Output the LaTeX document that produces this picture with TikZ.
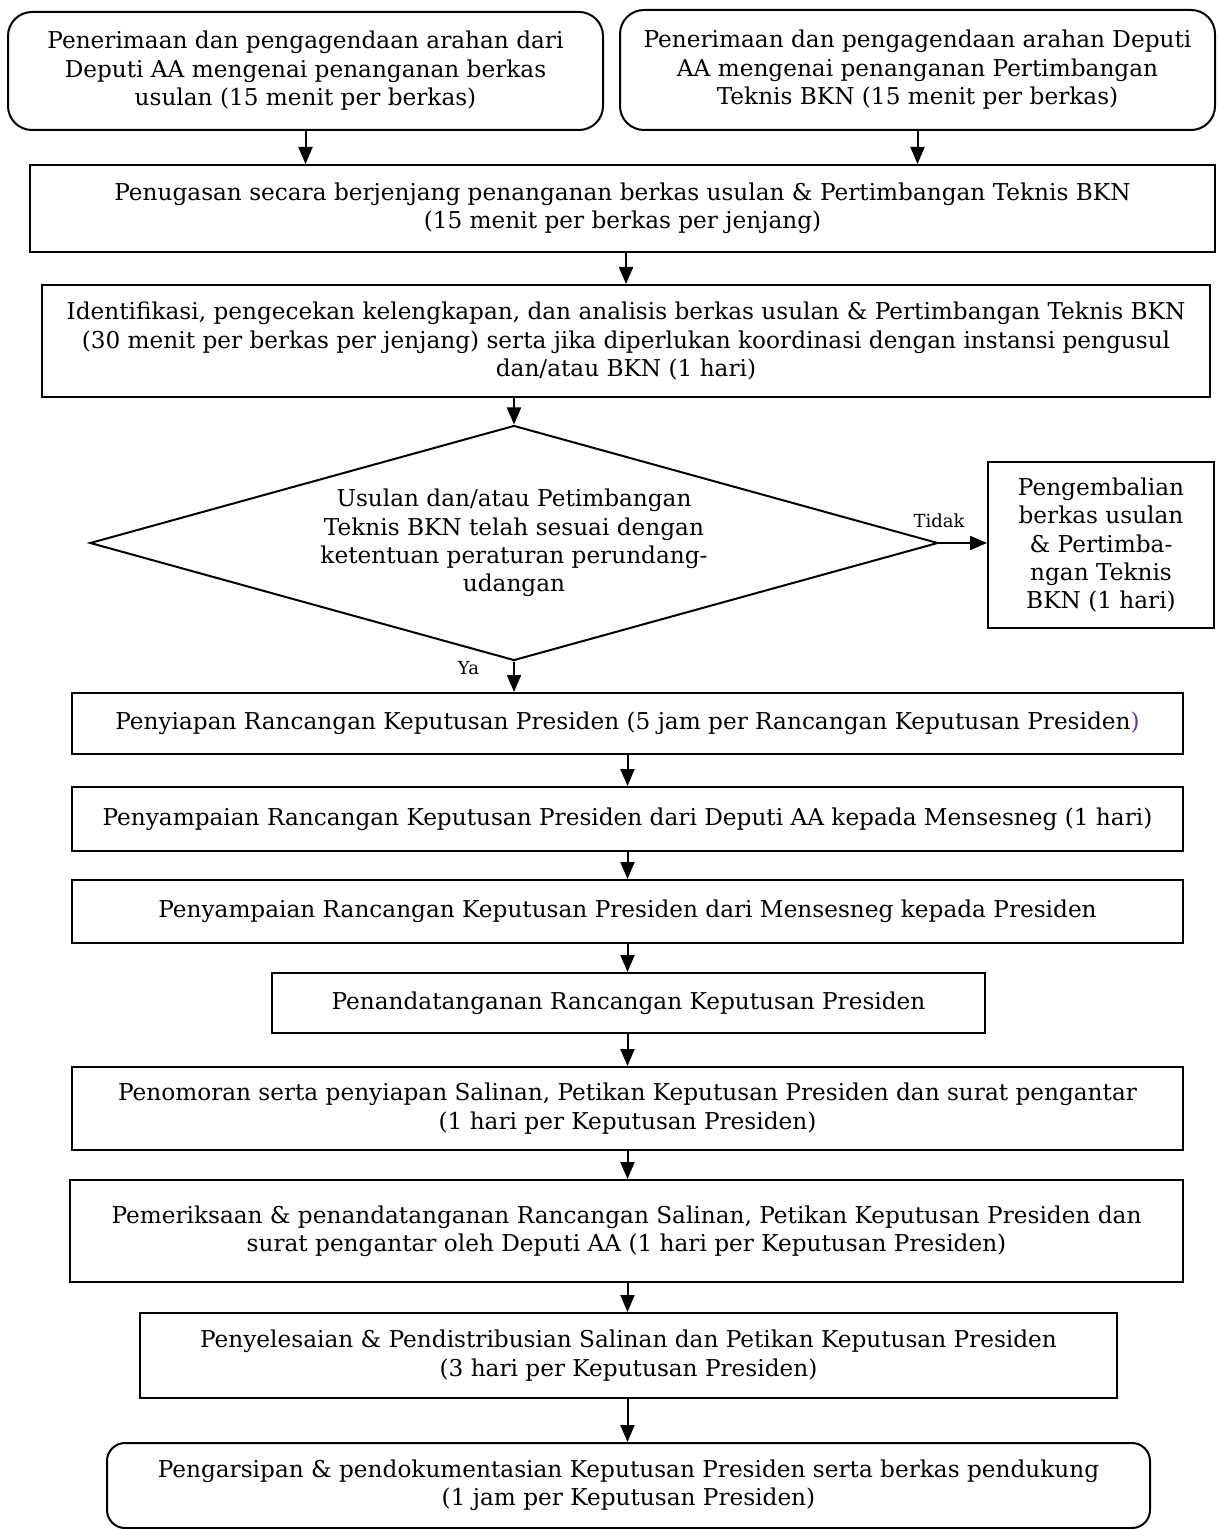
\documentclass[tikz,border=0pt]{standalone}
\usepackage{fontspec}
\setmainfont{DejaVu Serif}
\usepackage{xcolor}
\usepackage{tikz}
\usetikzlibrary{positioning}
\usetikzlibrary{arrows.meta, shapes.geometric, calc}

\definecolor{parenpurple}{HTML}{7030A0}

\tikzset{
    procbox/.style={draw, line width=1pt, align=center, inner sep=0pt,
        font=\fontsize{11.6}{14.2}\selectfont},
    startbox/.style={procbox, rounded corners=12pt},
    endbox/.style={procbox, rounded corners=9pt},
    decision/.style={procbox, shape=diamond, aspect=3.6},
    flow/.style={line width=1pt, -{Triangle[length=8.5pt,width=7pt]}},
    lbl/.style={font=\fontsize{9}{10}\selectfont, inner sep=1pt}
}

\begin{document}
\begin{tikzpicture}[x=0.5pt, y=-0.5pt]
            \useasboundingbox (0,0) rectangle (1218,1529);

            % kotak awal
            \node[startbox, minimum width=297.5pt, minimum height=59pt] (arahan) at (305.5,71) {
                Penerimaan dan pengagendaan arahan  dari\\
                Deputi AA mengenai penanganan berkas\\
                usulan (15 menit per berkas)};
            \node[startbox, minimum width=297.5pt, minimum height=60pt] (arahanpt) at (917.5,70) {
                Penerimaan dan pengagendaan arahan Deputi\\
                AA mengenai penanganan Pertimbangan\\
                Teknis BKN (15 menit per berkas)};

            \node[procbox, minimum width=592.5pt, minimum height=43.5pt] (penugasan) at (622.5,208.5) {
                Penugasan secara berjenjang penanganan berkas usulan \& Pertimbangan Teknis BKN\\
                (15 menit per berkas per jenjang)};
            \node[procbox, minimum width=584pt, minimum height=56pt] (identifikasi) at (626,341) {
                Identifikasi, pengecekan kelengkapan, dan analisis berkas usulan \& Pertimbangan Teknis BKN\\
                (30 menit per berkas per jenjang) serta jika diperlukan koordinasi dengan instansi pengusul\\
                dan/atau BKN (1 hari)};

            % keputusan
            \node[decision, minimum width=424pt, minimum height=117.5pt] (sesuai) at (514,543) {
                Usulan dan/atau Petimbangan\\
                Teknis BKN telah sesuai dengan\\
                ketentuan peraturan perundang-\\
                udangan};
            \node[procbox, minimum width=113pt, minimum height=83pt] (kembali) at (1101,545) {
                Pengembalian\\
                berkas usulan\\
                \& Pertimba-\\
                ngan Teknis\\
                BKN (1 hari)};

            \node[procbox, minimum width=555.5pt, minimum height=30.5pt] (penyiapan) at (627.5,723.5) {
                Penyiapan Rancangan Keputusan Presiden (5 jam per Rancangan Keputusan Presiden\textcolor{parenpurple}{)}};
            \node[procbox, minimum width=555.5pt, minimum height=32pt] (kemensesneg) at (627.5,819) {
                Penyampaian Rancangan Keputusan Presiden dari Deputi AA kepada Mensesneg (1 hari)};
            \node[procbox, minimum width=555.5pt, minimum height=31.5pt] (kepresiden) at (627.5,911.5) {
                Penyampaian Rancangan Keputusan Presiden dari Mensesneg kepada Presiden};
            \node[procbox, minimum width=356.5pt, minimum height=30pt] (tandatangan) at (628.5,1003) {
                Penandatanganan Rancangan Keputusan Presiden};
            \node[procbox, minimum width=555.5pt, minimum height=41.5pt] (penomoran) at (627.5,1108.5) {
                Penomoran serta penyiapan Salinan, Petikan Keputusan Presiden dan surat pengantar\\
                (1 hari per Keputusan Presiden)};
            \node[procbox, minimum width=556.5pt, minimum height=51pt] (pemeriksaan) at (626.5,1231) {
                Pemeriksaan \& penandatanganan Rancangan Salinan, Petikan Keputusan Presiden dan\\
                surat pengantar oleh Deputi AA (1 hari per Keputusan Presiden)};
            \node[procbox, minimum width=488.5pt, minimum height=42.5pt] (distribusi) at (628.5,1355.5) {
                Penyelesaian \& Pendistribusian Salinan dan Petikan Keputusan Presiden\\
                (3 hari per Keputusan Presiden)};
            \node[endbox, minimum width=521.5pt, minimum height=42.5pt] (arsip) at (628.5,1485.5) {
                Pengarsipan \& pendokumentasian Keputusan Presiden serta berkas pendukung\\
                (1 jam per Keputusan Presiden)};

            % alur
            \draw[flow] (arahan.south) -- (arahan.south |- penugasan.north);
            \draw[flow] (arahanpt.south) -- (arahanpt.south |- penugasan.north);
            \draw[flow] (identifikasi.north |- penugasan.south) -- (identifikasi.north);
            \draw[flow] (sesuai.north |- identifikasi.south) -- (sesuai.north);
            \draw[flow] (sesuai.east) -- node[lbl, pos=0, above=6pt] {Tidak} (sesuai.east -| kembali.west);
            \draw[flow] (sesuai.south) -- node[lbl, pos=0.2, left=16pt] {Ya} (sesuai.south |- penyiapan.north);
            \draw[flow] (penyiapan.south) -- (kemensesneg.north);
            \draw[flow] (kemensesneg.south) -- (kepresiden.north);
            \draw[flow] (kepresiden.south) -- (kepresiden.south |- tandatangan.north);
            \draw[flow] (kepresiden.south |- tandatangan.south) -- (penomoran.north);
            \draw[flow] (penomoran.south) -- (penomoran.south |- pemeriksaan.north);
            \draw[flow] (penomoran.south |- pemeriksaan.south) -- (penomoran.south |- distribusi.north);
            \draw[flow] (penomoran.south |- distribusi.south) -- (penomoran.south |- arsip.north);
        \end{tikzpicture}
\end{document}
